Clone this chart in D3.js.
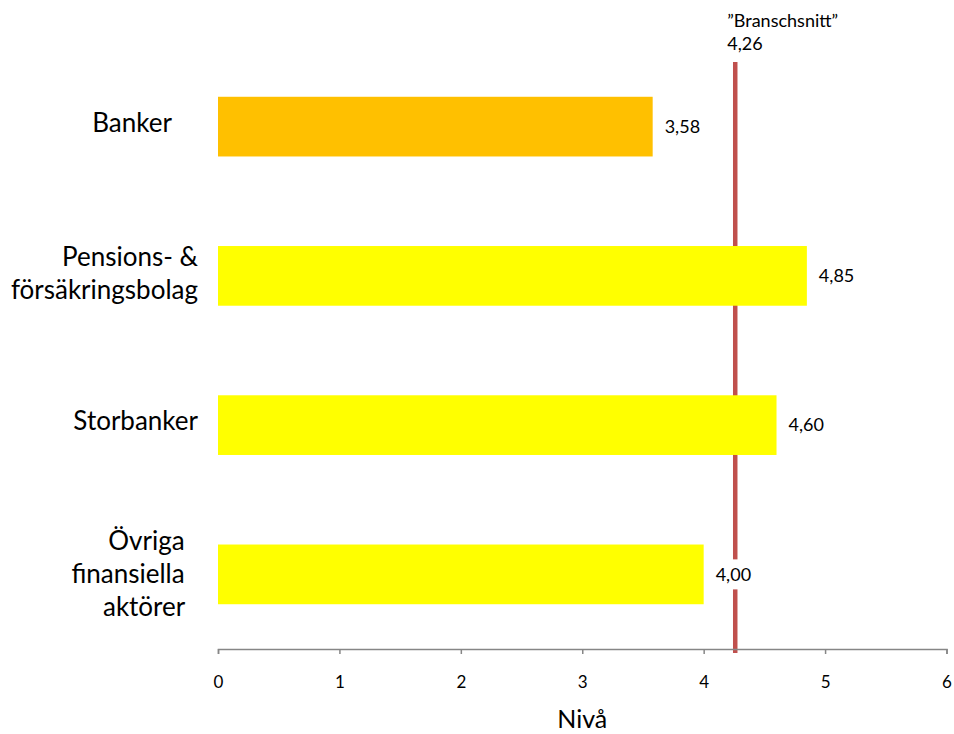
<!DOCTYPE html>
<html>
<head>
<meta charset="utf-8">
<script src="https://cdn.jsdelivr.net/npm/d3@7"></script>
<style>
  html, body { margin: 0; padding: 0; background: #fff; }
  svg { display: block; font-family: Lato, "Open Sans", sans-serif; }
</style>
</head>
<body>
<svg id="chart" width="954" height="734"></svg>
<script>
// Category labels (one entry per line of a wrapped label)
const categories = [
  ["Banker    "],
  ["Pensions- &", "försäkringsbolag"],
  ["Storbanker"],
  ["Övriga  ", "finansiella  ", "aktörer  "]
];
const values = [3.58, 4.85, 4.60, 4.00];
const barColors = ["#FFC000", "#FFFF00", "#FFFF00", "#FFFF00"];
const xTicks = [0, 1, 2, 3, 4, 5, 6];
const averageValue = 4.26;
const averageLabel = "\u201DBranschsnitt\u201D";
const axisTitle = "Nivå";

const fmt = v => v.toFixed(2).replace(".", ",");

const svg = d3.select("#chart");

const x = d3.scaleLinear().domain([0, 6]).range([218, 946.5]);
const y = d3.scaleBand()
  .domain(d3.range(categories.length))
  .range([52, 649])
  .paddingInner(0.6)
  .paddingOuter(0.3);

// Industry average line (drawn beneath the bars)
svg.append("line")
  .attr("x1", x(averageValue)).attr("x2", x(averageValue))
  .attr("y1", 62).attr("y2", 653)
  .attr("stroke", "#C0504D")
  .attr("stroke-width", 4.5);

svg.append("text")
  .attr("x", x(averageValue) - 8)
  .attr("y", 27)
  .attr("font-size", 18)
  .attr("fill", "#000")
  .text(averageLabel);
svg.append("text")
  .attr("x", x(averageValue) - 8)
  .attr("y", 50)
  .attr("font-size", 18)
  .attr("fill", "#000")
  .text(fmt(averageValue));

// Bars
svg.append("g").selectAll("rect")
  .data(values)
  .join("rect")
  .attr("x", x(0))
  .attr("y", (d, i) => y(i))
  .attr("width", d => x(d) - x(0))
  .attr("height", y.bandwidth())
  .attr("fill", (d, i) => barColors[i]);

// Value labels with white backing
const vl = svg.append("g").selectAll("g")
  .data(values)
  .join("g")
  .attr("transform", (d, i) => `translate(${x(d) + 12},${y(i) + y.bandwidth() / 2})`);
vl.append("text")
  .attr("font-size", 18)
  .attr("dy", "0.35em")
  .attr("fill", "#000")
  .text(d => fmt(d))
  .each(function () {
    const b = this.getBBox();
    d3.select(this.parentNode).insert("rect", "text")
      .attr("x", b.x - 6).attr("y", -15)
      .attr("width", b.width + 12).attr("height", 30)
      .attr("fill", "#fff");
  });

// Category labels
const cl = svg.append("g").selectAll("text")
  .data(categories)
  .join("text")
  .attr("text-anchor", "end")
  .attr("font-size", 26)
  .attr("fill", "#000")
  .style("white-space", "pre")
  .attr("transform", (d, i) => `translate(198,${y(i) + y.bandwidth() / 2})`);
cl.selectAll("tspan")
  .data(d => d.map((t, k) => ({ t, k, n: d.length })))
  .join("tspan")
  .attr("x", 0)
  .attr("y", d => (d.k - (d.n - 1) / 2) * 33 + 3 + d.n * 2)
  .text(d => d.t);

// X axis
const axis = svg.append("g")
  .attr("transform", "translate(0,649)")
  .call(d3.axisBottom(x).tickValues(xTicks).tickSize(5).tickPadding(22).tickFormat(d3.format("d")));
axis.select(".domain").attr("stroke", "#868686").attr("stroke-width", 1.5);
axis.selectAll(".tick line").attr("stroke", "#868686").attr("stroke-width", 1.5);
axis.selectAll(".tick text").attr("font-size", 17).attr("fill", "#000")
  .attr("font-family", "Lato, 'Open Sans', sans-serif");

svg.append("text")
  .attr("x", (x(0) + x(6)) / 2)
  .attr("y", 728)
  .attr("text-anchor", "middle")
  .attr("font-size", 25)
  .attr("fill", "#000")
  .text(axisTitle);
</script>
</body>
</html>
